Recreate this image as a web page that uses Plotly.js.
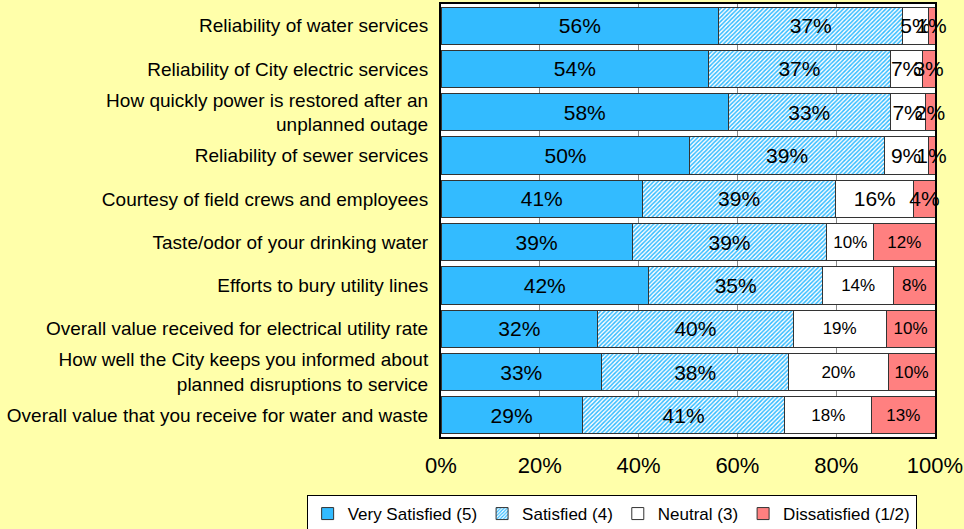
<!DOCTYPE html>
<html>
<head>
<meta charset="utf-8">
<script src="https://cdn.plot.ly/plotly-3.0.1.min.js"></script>
<style>
html,body{margin:0;padding:0;background:#FFFFAA;}
#chart{width:964px;height:529px;}
</style>
</head>
<body>
<div id="chart"></div>
<script>
var categories = [
  "Reliability of water services",
  "Reliability of City electric services",
  "How quickly power is restored after an<br>unplanned outage",
  "Reliability of sewer services",
  "Courtesy of field crews and employees",
  "Taste/odor of your drinking water",
  "Efforts to bury utility lines",
  "Overall value received for electrical utility rate",
  "How well the City keeps you informed about<br>planned disruptions to service",
  "Overall value that you receive for water and waste"
];
var verySatisfied = [56.2, 54.2, 58.2, 50.4, 40.8, 38.7, 42.0, 31.7, 32.5, 28.6];
var satisfied     = [37.3, 36.7, 32.7, 39.3, 39.1, 39.4, 35.3, 39.6, 37.9, 41.0];
var neutral       = [5.1, 6.5, 7.1, 8.9, 15.8, 9.5, 14.3, 18.8, 20.1, 17.6];
var dissatisfied  = [1.4, 2.6, 2.0, 1.4, 4.3, 12.4, 8.4, 9.9, 9.5, 12.8];
var seriesNames = ["Very Satisfied (5)", "Satisfied (4)", "Neutral (3)", "Dissatisfied (1/2)"];
var tickVals = [0, 20, 40, 60, 80, 100];
var tickText = ["0%", "20%", "40%", "60%", "80%", "100%"];

var FONT = "Liberation Sans, Arial, sans-serif";
var smallSizes = [21, 21, 21, 21, 21, 17, 17, 17, 17, 17];
var bigSizes = categories.map(function(){return 21;});
var lineStyle = {color: "#333333", width: 1};

function mk(name, vals, marker, sizes) {
  return {
    type: "bar", orientation: "h", name: name,
    y: categories, x: vals,
    marker: marker,
    text: vals.map(function(v){return Math.round(v) + "%";}),
    textposition: "inside",
    insidetextanchor: "middle",
    constraintext: "none",
    textangle: 0,
    cliponaxis: false,
    textfont: {family: FONT, size: sizes, color: "#000000"},
    insidetextfont: {family: FONT, size: sizes, color: "#000000"},
    hoverinfo: "x+y"
  };
}

var traces = [
  mk(seriesNames[0], verySatisfied, {color: "#33BBFF", line: lineStyle}, bigSizes),
  mk(seriesNames[1], satisfied, {color: "#FFFFFF", line: lineStyle,
      pattern: {shape: "/", fgcolor: "#33BBFF", bgcolor: "#FFFFFF", size: 3, solidity: 0.5, fillmode: "replace"}}, bigSizes),
  mk(seriesNames[2], neutral, {color: "#FFFFFF", line: lineStyle}, smallSizes),
  mk(seriesNames[3], dissatisfied, {color: "#FF8080", line: lineStyle}, smallSizes)
];

var layout = {
  width: 964, height: 529,
  paper_bgcolor: "#FFFFAA",
  plot_bgcolor: "#FFFFFF",
  barmode: "stack",
  bargap: 0.14,
  margin: {l: 441, r: 29, t: 4, b: 92, pad: 0, autoexpand: false},
  font: {family: FONT, color: "#000000"},
  xaxis: {
    range: [0, 100], tickvals: tickVals, ticktext: tickText,
    tickfont: {family: FONT, size: 22, color: "#000000"},
    showgrid: true, gridcolor: "#888888", gridwidth: 1,
    zeroline: false, showline: true, linecolor: "#000000", linewidth: 2, mirror: true,
    ticks: "", ticklabelstandoff: 8, fixedrange: true, automargin: false
  },
  yaxis: {
    autorange: "reversed", type: "category",
    tickfont: {family: FONT, size: 19, color: "#000000"},
    showline: true, linecolor: "#000000", linewidth: 2, mirror: true,
    ticks: "", ticklabelstandoff: 7, showgrid: false, fixedrange: true, automargin: false
  },
  showlegend: true,
  legend: {
    orientation: "h", x: -0.272, xanchor: "left",
    y: -0.134, yanchor: "top",
    bgcolor: "#FFFFFF", bordercolor: "#000000", borderwidth: 1,
    font: {family: FONT, size: 17, color: "#000000"},
    traceorder: "normal", itemwidth: 30, tracegroupgap: 0
  }
};

Plotly.newPlot("chart", traces, layout, {displayModeBar: false, staticPlot: true});
</script>
</body>
</html>
